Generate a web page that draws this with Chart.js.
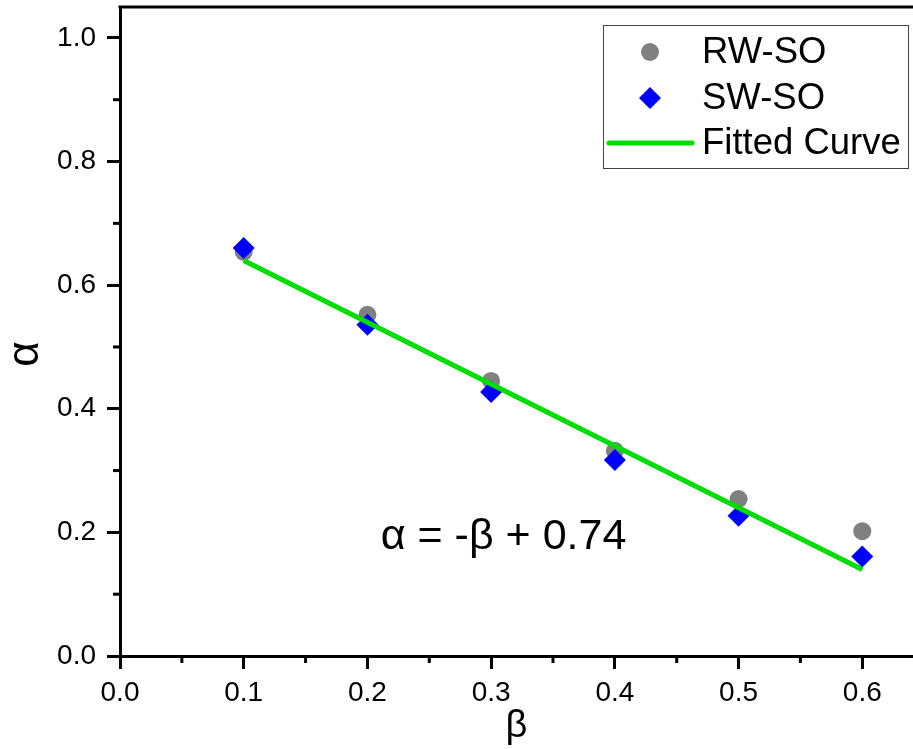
<!DOCTYPE html>
<html>
<head>
<meta charset="utf-8">
<script src="https://cdn.jsdelivr.net/npm/chart.js@4.4.1/dist/chart.umd.min.js"></script>
<style>
html, body { margin: 0; padding: 0; background: #fff; overflow: hidden; }
</style>
</head>
<body>
<canvas id="grafico" width="913" height="749"></canvas>
<script>
// datos
const betaValues = [0.1, 0.2, 0.3, 0.4, 0.5, 0.6];
const rwSO = [0.654, 0.552, 0.445, 0.332, 0.254, 0.202];
const swSO = [0.660, 0.536, 0.427, 0.317, 0.227, 0.161];
const fitBeta = [0.1, 0.6];
const fitAlpha = [0.64, 0.14];
const seriesLabels = ['RW-SO', 'SW-SO', 'Fitted Curve'];
const equationText = 'α = -β + 0.74';
const equationPos = [0.31, 0.193];
const yTitle = 'α';
const xTitle = 'β';

const fuente = '"Liberation Sans", Arial, sans-serif';

const toPoints = (xs, ys) => xs.map((x, i) => ({ x: x, y: ys[i] }));

const extras = {
    id: 'extras',
    afterDraw(chart) {
        const ctx = chart.ctx;
        const area = chart.chartArea;
        const xs = chart.scales.x;
        const ys = chart.scales.y;
        ctx.save();
        ctx.strokeStyle = '#000';
        ctx.lineWidth = 3;
        // borde superior
        ctx.beginPath();
        ctx.moveTo(area.left - 1.5, area.top);
        ctx.lineTo(area.right, area.top);
        ctx.stroke();
        // ticks menores
        xs.ticks.forEach((t, i) => {
            if (i % 2) {
                const px = xs.getPixelForValue(t.value);
                ctx.beginPath();
                ctx.moveTo(px, area.bottom);
                ctx.lineTo(px, area.bottom + 7);
                ctx.stroke();
            }
        });
        ys.ticks.forEach((t, i) => {
            if (i % 2) {
                const py = ys.getPixelForValue(t.value);
                ctx.beginPath();
                ctx.moveTo(area.left, py);
                ctx.lineTo(area.left - 7, py);
                ctx.stroke();
            }
        });
        // titulo eje y
        ctx.fillStyle = '#000';
        ctx.save();
        ctx.translate(26, 354);
        ctx.rotate(-Math.PI / 2);
        ctx.font = '44px ' + fuente;
        ctx.textAlign = 'center';
        ctx.textBaseline = 'middle';
        ctx.fillText(yTitle, 0, 0);
        ctx.restore();
        // ecuacion
        ctx.font = '43px ' + fuente;
        ctx.textAlign = 'center';
        ctx.textBaseline = 'middle';
        ctx.fillText(equationText, xs.getPixelForValue(equationPos[0]), ys.getPixelForValue(equationPos[1]));
        // leyenda
        ctx.lineWidth = 1;
        ctx.strokeStyle = '#444';
        ctx.strokeRect(603.5, 25.5, 305, 143);
        const ds = chart.data.datasets;
        const filas = [52, 98, 143];
        ctx.font = '36.5px ' + fuente;
        ctx.textAlign = 'left';
        ds.forEach((d, i) => {
            const y = filas[i];
            if (d.showLine) {
                ctx.strokeStyle = d.borderColor;
                ctx.lineWidth = d.borderWidth;
                ctx.lineCap = 'round';
                ctx.beginPath();
                ctx.moveTo(609, y);
                ctx.lineTo(692, y);
                ctx.stroke();
            } else {
                ctx.fillStyle = d.backgroundColor;
                Chart.helpers.drawPoint(ctx, { pointStyle: d.pointStyle, radius: d.pointRadius, rotation: 0, borderWidth: 0 }, 650, y);
            }
            ctx.fillStyle = '#000';
            ctx.fillText(d.label, 702, y + 1);
        });
        ctx.restore();
    }
};

const config = {
    type: 'scatter',
    data: {
        datasets: [
            {
                label: seriesLabels[0],
                data: toPoints(betaValues, rwSO),
                pointStyle: 'circle',
                pointRadius: 9,
                backgroundColor: '#808080',
                borderWidth: 0,
                order: 3
            },
            {
                label: seriesLabels[1],
                data: toPoints(betaValues, swSO),
                pointStyle: 'rectRot',
                pointRadius: 11,
                backgroundColor: '#0000ff',
                borderWidth: 0,
                order: 2
            },
            {
                label: seriesLabels[2],
                data: toPoints(fitBeta, fitAlpha),
                showLine: true,
                pointRadius: 0,
                borderColor: '#00dd00',
                backgroundColor: '#00dd00',
                borderWidth: 5,
                order: 1
            }
        ]
    },
    options: {
        responsive: false,
        animation: false,
        layout: { autoPadding: false, padding: { top: 7, right: 0, left: 0, bottom: 0 } },
        plugins: { legend: { display: false }, tooltip: { enabled: false } },
        scales: {
            x: {
                type: 'linear',
                min: 0,
                max: 0.641,
                afterFit: (s) => { s.height = 93; s.paddingLeft = 0; s.paddingRight = 0; },
                border: { color: '#000', width: 3 },
                grid: {
                    drawOnChartArea: false,
                    tickLength: 13,
                    tickWidth: 3,
                    tickColor: (c) => (c.index % 2 ? 'rgba(0,0,0,0)' : '#000')
                },
                ticks: {
                    stepSize: 0.05,
                    includeBounds: false,
                    maxRotation: 0,
                    autoSkip: false,
                    padding: 7,
                    color: '#000',
                    font: { family: fuente, size: 28 },
                    callback: (v, i) => (i % 2 ? '' : v.toFixed(1))
                },
                title: {
                    display: true,
                    text: xTitle,
                    color: '#000',
                    font: { family: fuente, size: 38 },
                    padding: { top: 0, bottom: 0 }
                }
            },
            y: {
                type: 'linear',
                min: 0,
                max: 1.05,
                afterFit: (s) => { s.width = 120; s.paddingTop = 0; s.paddingBottom = 0; },
                border: { color: '#000', width: 3 },
                grid: {
                    drawOnChartArea: false,
                    tickLength: 13,
                    tickWidth: 3,
                    tickColor: (c) => (c.index % 2 ? 'rgba(0,0,0,0)' : '#000')
                },
                ticks: {
                    stepSize: 0.1,
                    includeBounds: false,
                    autoSkip: false,
                    padding: 11,
                    color: '#000',
                    font: { family: fuente, size: 28 },
                    callback: (v, i) => (i % 2 ? '' : v.toFixed(1))
                },
                title: { display: false }
            }
        }
    },
    plugins: [extras]
};

new Chart(document.querySelector('#grafico'), config);
</script>
</body>
</html>
